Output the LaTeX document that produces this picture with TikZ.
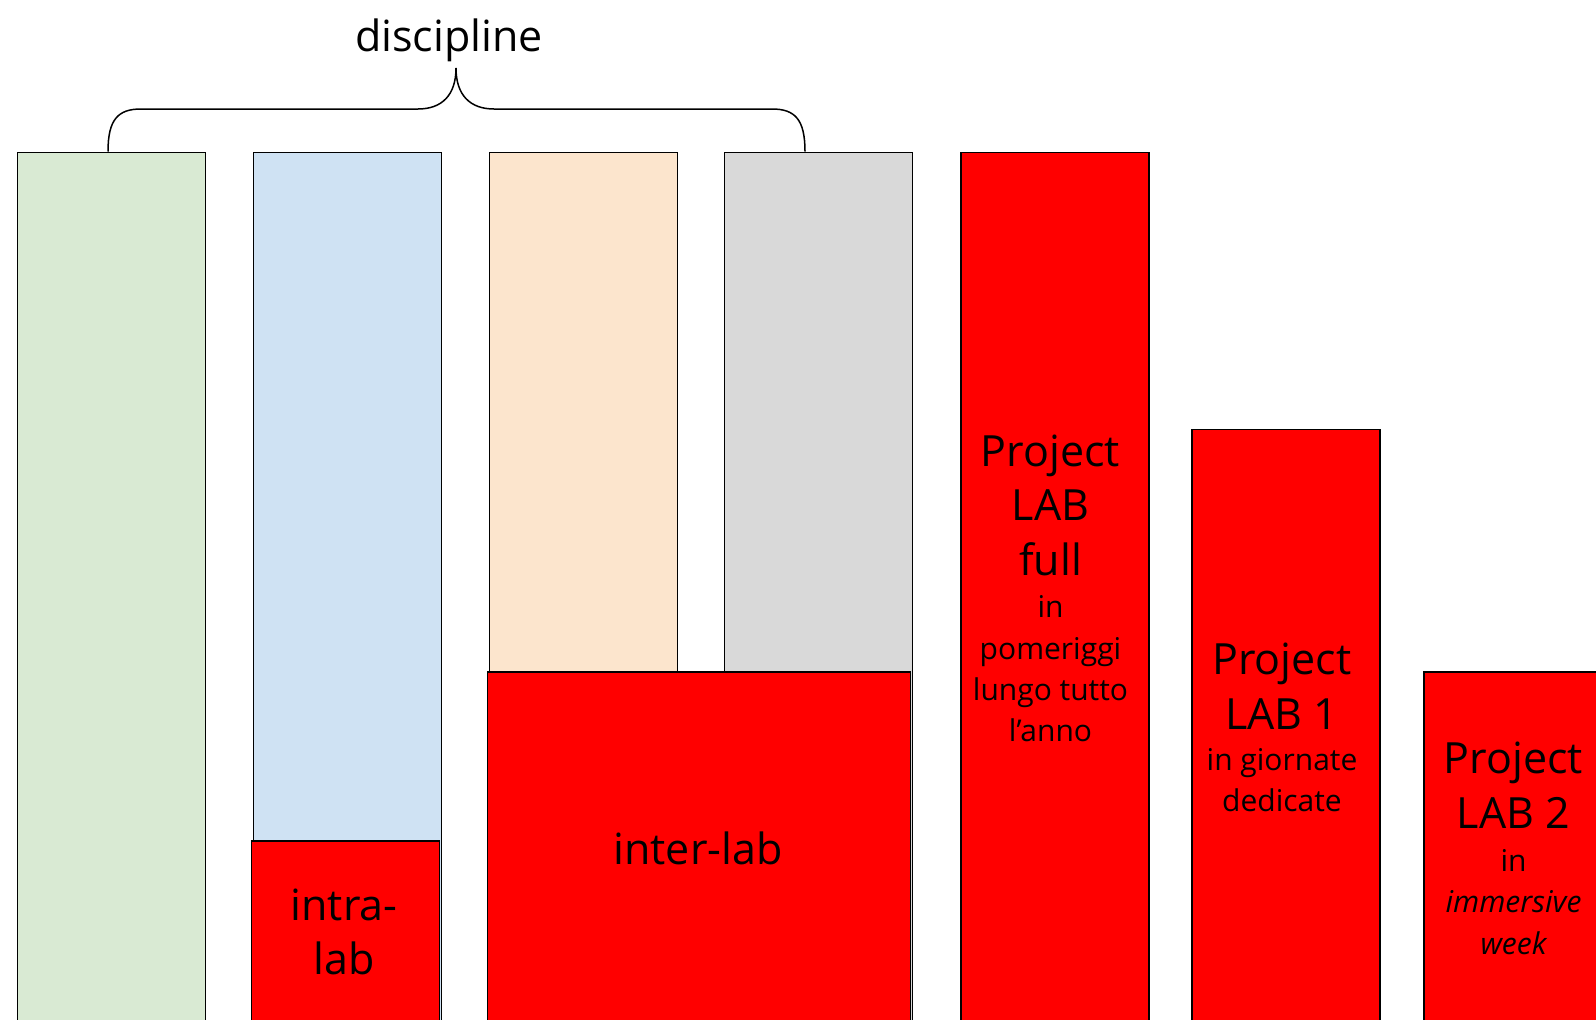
\documentclass[tikz,border=0pt]{standalone}
\usepackage{fontspec}
\setmainfont{Open Sans}
\begin{document}
\begin{tikzpicture}[x=1pt,y=-1pt,
  bar/.style={draw=black,line width=1.5pt,anchor=north west,minimum width=188pt,inner sep=0pt},
  big/.style={align=center,font=\fontsize{43}{54.5}\selectfont},
  small/.style={align=center,font=\fontsize{30}{41.4}\selectfont}]
\definecolor{cgreen}{HTML}{D9EAD3}
\definecolor{cblue}{HTML}{CFE2F3}
\definecolor{corange}{HTML}{FCE5CD}
\definecolor{cgray}{HTML}{D9D9D9}
\definecolor{cred}{HTML}{FF0000}
\useasboundingbox (0,0) rectangle (1596,1020);
\clip (0,0) rectangle (1596,1020);
\fill[white] (0,0) rectangle (1596,1020);

% discipline columns
\node[bar,fill=cgreen,minimum height=880pt] (green) at (16.5,151.5) {};
\node[bar,fill=cblue,minimum height=880pt] (blue) at (252.5,151.5) {};
\node[bar,fill=corange,minimum height=880pt] (orange) at (488.5,151.5) {};
\node[bar,fill=cgray,minimum height=880pt] (gray) at (723.5,151.5) {};

% lab blocks
\node[bar,fill=cred,minimum height=200pt] (intra) at (250.5,840) {};
\node[bar,fill=cred,minimum width=423pt,minimum height=360pt] (inter) at (486.5,671) {};
\node[bar,fill=cred,minimum height=880pt] (plfull) at (960,151.5) {};
\node[bar,fill=cred,minimum height=620pt] (plone) at (1191,428.5) {};
\node[bar,fill=cred,minimum width=200pt,minimum height=380pt] (pltwo) at (1423,671) {};

% labels
\node[big] (tintra) at (344,932) {intra-\\lab};
\node[big] (tinter) at (698,848) {inter-lab};
\node[big] (tfull) at (1050.5,505) {Project\\LAB\\full};
\node[small] (sfull) at (1050.5,669) {in\\pomeriggi\\lungo tutto\\l’anno};
\node[big] (tone) at (1282,686) {Project\\LAB 1};
\node[small] (sone) at (1282,780) {in giornate\\dedicate};
\node[big] (ttwo) at (1513.5,785) {Project\\LAB 2};
\node[small] (stwo) at (1513.5,902) {in\\\itshape immersive\\\itshape week};

% brace over the discipline columns
\node[big] (disc) at (449,40) {discipline};
\coordinate (bl) at (108,151.5);
\coordinate (br) at (805,151.5);
\coordinate (tip) at (456,68);
\draw[line width=1.5pt] (bl) .. controls +(0,-32) and +(-23,0) .. (141,109)
  -- (418,109) .. controls +(24,0) and +(0,27) .. (tip)
  .. controls +(0,27) and +(-24,0) .. (494,109)
  -- (772,109) .. controls +(23,0) and +(0,-32) .. (br);
\end{tikzpicture}
\end{document}
